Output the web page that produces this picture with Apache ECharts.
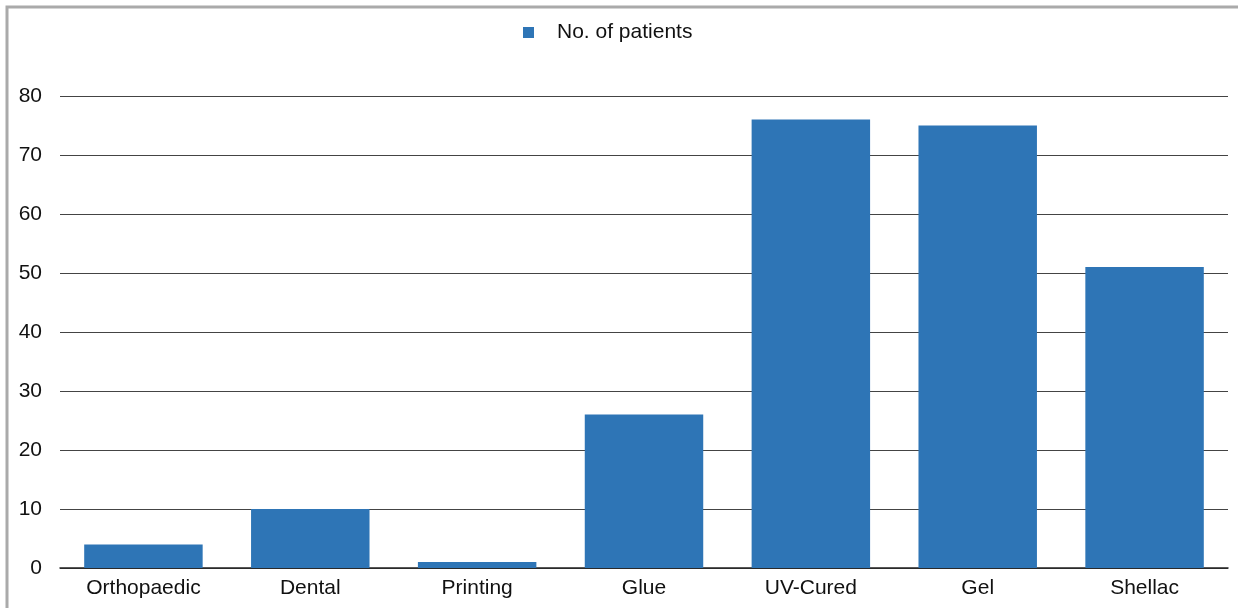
<!DOCTYPE html>
<html><head><meta charset="utf-8">
<script src="https://cdn.jsdelivr.net/npm/echarts@6/dist/echarts.min.js"></script>
<style>html,body{margin:0;padding:0;background:#fff}#c{width:1238px;height:608px}</style>
</head><body><div id="c"></div>
<script>
const categories = ['Orthopaedic','Dental','Printing','Glue','UV-Cured','Gel','Shellac'];
const patients = [4,10,1,26,76,75,51];
const seriesName = 'No. of patients';
const chart = echarts.init(document.getElementById('c'));
const font = '"Liberation Sans", Arial, Helvetica, sans-serif';
chart.setOption({
  animation:false,
  textStyle:{fontFamily:font},
  graphic:[{type:'polyline',shape:{points:[[7,608],[7,7],[1238,7]]},style:{stroke:'#aaaaaa',lineWidth:3,fill:null}}],
  legend:{top:17,left:518,itemWidth:11,itemHeight:11,itemGap:10,icon:'rect',
    textStyle:{fontSize:21,color:'#111',fontFamily:font,padding:[0,0,0,18]},data:[seriesName]},
  grid:{left:60,right:10,top:96,bottom:40,containLabel:false},
  xAxis:{type:'category',data:categories,
    axisLine:{lineStyle:{color:'#222',width:1.5}},axisTick:{show:false},
    axisLabel:{color:'#111',fontSize:21,margin:10,fontFamily:font}},
  yAxis:{type:'value',min:0,max:80,interval:10,
    axisLine:{show:false},axisTick:{show:false},
    axisLabel:{color:'#111',fontSize:21,margin:18,fontFamily:font},
    splitLine:{lineStyle:{color:'#444',width:1}}},
  series:[{name:seriesName,type:'bar',data:patients,barCategoryGap:'29%',
    itemStyle:{color:'#2E75B6'}}]
});
</script></body></html>
